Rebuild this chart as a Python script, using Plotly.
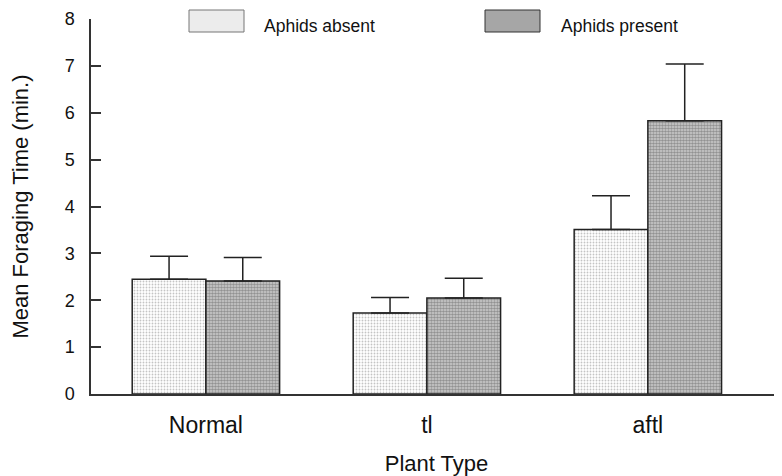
import plotly.graph_objects as go

categories = ["Normal", "tl", "aftl"]
absent_mean = [2.45, 1.73, 3.51]
absent_se = [0.49, 0.33, 0.72]
present_mean = [2.41, 2.05, 5.83]
present_se = [0.50, 0.42, 1.21]
series_names = ["Aphids absent", "Aphids present"]
y_ticks = [0, 1, 2, 3, 4, 5, 6, 7, 8]

FONT = "Liberation Sans, Arial, sans-serif"

fig = go.Figure()
fig.add_trace(go.Bar(
    x=categories, y=absent_mean, name=series_names[0],
    marker=dict(color="white", line=dict(color="#222", width=1.5),
                pattern=dict(shape=".", fgcolor="#8a8a8a", bgcolor="white", size=3, solidity=0.3)),
    error_y=dict(type="data", symmetric=False, array=absent_se, arrayminus=[0, 0, 0],
                 color="#222", thickness=1.5, width=19),
))
fig.add_trace(go.Bar(
    x=categories, y=present_mean, name=series_names[1],
    marker=dict(color="#a0a0a0", line=dict(color="#222", width=1.5),
                pattern=dict(shape=".", fgcolor="#555", bgcolor="#cfcfcf", size=3, solidity=0.6)),
    error_y=dict(type="data", symmetric=False, array=present_se, arrayminus=[0, 0, 0],
                 color="#222", thickness=1.5, width=19),
))

# manual legend (paper coords; plot area spans x 83..774, y 11..386 of figure)
W = 691.0
H = 375.0
def px_x(px):
    return (px - 91) / W
def px_y(py):
    return (394 - py) / H

legend_boxes = [(189, 244, "#ececec", "#777", 262), (485, 540, "#a6a6a6", "#333", 559)]
for (x0, x1, fc, lc, tx), name in zip(legend_boxes, series_names):
    fig.add_shape(type="rect", xref="paper", yref="paper", x0=px_x(x0), x1=px_x(x1),
                  y0=px_y(10), y1=px_y(32), fillcolor=fc, line=dict(color=lc, width=1))
    fig.add_annotation(xref="paper", yref="paper", x=px_x(tx), y=px_y(26), text=name,
                       showarrow=False, xanchor="left", yanchor="middle",
                       font=dict(family=FONT, size=17.5, color="#111"))

fig.update_layout(
    width=774, height=468,
    margin=dict(l=83, r=0, t=11, b=82),
    paper_bgcolor="white", plot_bgcolor="white",
    barmode="group", bargap=0.333, bargroupgap=0,
    showlegend=False,
    font=dict(family=FONT, color="#111"),
    xaxis=dict(
        range=[-0.52, 2.607], showgrid=False, showline=True, linecolor="#333", linewidth=1.5,
        ticks="", tickfont=dict(size=23, family=FONT), ticklabelstandoff=10,
        title=dict(text="Plant Type", font=dict(size=22, family=FONT), standoff=19),
    ),
    yaxis=dict(
        range=[0, 8], tickvals=y_ticks, showgrid=False, zeroline=False,
        showline=True, linecolor="#333", linewidth=1.5,
        ticks="inside", ticklen=10, tickwidth=1.5, tickcolor="#333",
        tickfont=dict(size=18, family=FONT), ticklabelstandoff=11,
        title=dict(text="Mean Foraging Time (min.)", font=dict(size=22, family=FONT), standoff=30),
    ),
)

fig.write_html("out.html")
